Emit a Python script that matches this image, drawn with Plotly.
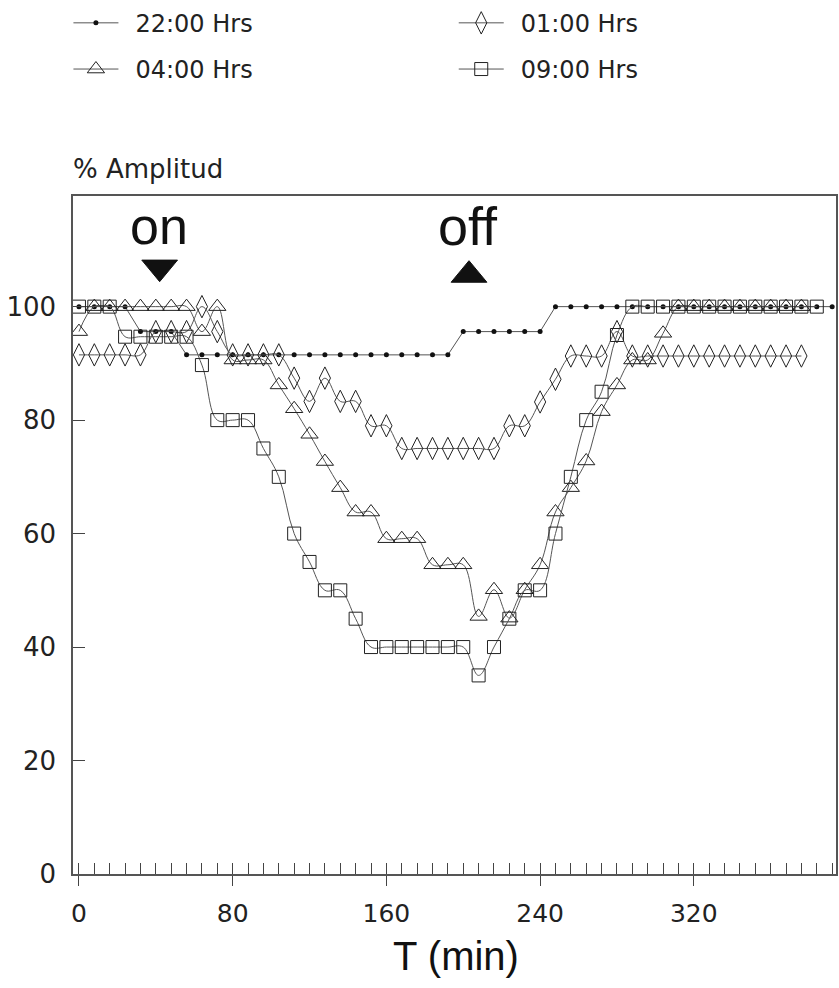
import plotly.graph_objects as go

# ---------------- data ----------------
t_2200 = [0, 8, 16, 24, 32, 40, 48, 56, 64, 72, 80, 88, 96, 104, 112, 120, 128, 136, 144, 152,
          160, 168, 176, 184, 192, 200, 208, 216, 224, 232, 240, 248, 256, 264, 272, 280, 288,
          296, 304, 312, 320, 328, 336, 344, 352, 360, 368, 376, 384, 392]
v_2200 = [100, 100, 100, 100, 95.6, 95.6, 95.6, 91.5, 91.5, 91.5, 91.5, 91.5, 91.5, 91.5, 91.5,
          91.5, 91.5, 91.5, 91.5, 91.5, 91.5, 91.5, 91.5, 91.5, 91.5, 95.6, 95.6, 95.6, 95.6, 95.6,
          95.6, 100, 100, 100, 100, 100, 100, 100, 100, 100, 100, 100, 100, 100, 100, 100, 100,
          100, 100, 100]

t_0100 = [0, 8, 16, 24, 32, 40, 48, 56, 64, 72, 80, 88, 96, 104, 112, 120, 128, 136, 144, 152,
          160, 168, 176, 184, 192, 200, 208, 216, 224, 232, 240, 248, 256, 264, 272, 280, 288,
          296, 304, 312, 320, 328, 336, 344, 352, 360, 368, 376]
v_0100 = [91.5, 91.5, 91.5, 91.5, 91.5, 95.6, 95.6, 95.6, 100, 95.6, 91.5, 91.5, 91.5, 91.5,
          87.4, 83.3, 87.4, 83.3, 83.3, 79, 79, 75, 75, 75, 75, 75, 75, 75, 79, 79, 83.2, 87.2,
          91.3, 91.3, 91.3, 95.6, 91.3, 91.3, 91.3, 91.3, 91.3, 91.3, 91.3, 91.3, 91.3, 91.3,
          91.3, 91.3]

t_0400 = [0, 8, 16, 24, 32, 40, 48, 56, 64, 72, 80, 88, 96, 104, 112, 120, 128, 136, 144, 152,
          160, 168, 176, 184, 192, 200, 208, 216, 224, 232, 240, 248, 256, 264, 272, 280, 288,
          296, 304, 312, 320, 328, 336, 344, 352, 360, 368, 376]
v_0400 = [95.6, 100, 100, 100, 100, 100, 100, 100, 95.6, 100, 90.6, 90.6, 90.6, 86.2, 82, 77.5,
          72.7, 68.1, 63.8, 63.8, 59.1, 59.1, 59.1, 54.5, 54.5, 54.5, 45.4, 50.1, 45.1, 50.1,
          54.5, 63.8, 68.1, 72.8, 81.5, 86.2, 90.6, 90.6, 95.3, 100, 100, 100, 100, 100, 100,
          100, 100, 100]

t_0900 = [0, 8, 16, 24, 32, 40, 48, 56, 64, 72, 80, 88, 96, 104, 112, 120, 128, 136, 144, 152,
          160, 168, 176, 184, 192, 200, 208, 216, 224, 232, 240, 248, 256, 264, 272, 280, 288,
          296, 304, 312, 320, 328, 336, 344, 352, 360, 368, 376, 384]
v_0900 = [100, 100, 100, 94.7, 94.7, 94.7, 94.7, 94.7, 89.7, 80, 80, 80, 75, 70, 60, 55, 50, 50,
          45, 40, 40, 40, 40, 40, 40, 40, 35, 40, 45, 50, 50, 60, 70, 80, 85, 95, 100, 100, 100,
          100, 100, 100, 100, 100, 100, 100, 100, 100, 100]

series_names = ["22:00 Hrs", "01:00 Hrs", "04:00 Hrs", "09:00 Hrs"]
x_ticks = [0, 80, 160, 240, 320]
y_ticks = [0, 20, 40, 60, 80, 100]
on_time = 42
off_time = 203

# ---------------- figure ----------------
XR = [-3.1, 394]
YR = [0, 119.5]
INK = "#222222"
LINE = "#555555"
PAD = "\u2002"  # small gap between legend symbol and text

fig = go.Figure()

fig.add_trace(go.Scatter(
    x=t_2200, y=v_2200, name=PAD + series_names[0], mode="lines+markers",
    line=dict(color=LINE, width=1), marker=dict(symbol="circle", size=5, color="#111111"),
    legend="legend", legendgroup="a"))
fig.add_trace(go.Scatter(
    x=t_0100, y=v_0100, name=PAD + series_names[1], mode="lines+markers",
    line=dict(color=LINE, width=1, shape="spline", smoothing=1.1),
    marker=dict(symbol="diamond-tall-open", size=16, color=INK, line=dict(width=1, color=INK)),
    legend="legend2", legendgroup="b"))
fig.add_trace(go.Scatter(
    x=t_0400, y=v_0400, name=PAD + series_names[2], mode="lines+markers",
    line=dict(color=LINE, width=1, shape="spline", smoothing=1.1),
    marker=dict(symbol="triangle-up-open", size=15, color=INK, line=dict(width=1, color=INK)),
    legend="legend", legendgroup="c"))
fig.add_trace(go.Scatter(
    x=t_0900, y=v_0900, name=PAD + series_names[3], mode="lines+markers",
    line=dict(color=LINE, width=1, shape="spline", smoothing=1.1),
    marker=dict(symbol="square-open", size=13, color=INK, line=dict(width=1, color=INK)),
    legend="legend2", legendgroup="d"))

# on / off markers (flat triangles)
hw = 9.3   # half width in minutes
h = 3.8    # height in % units
shapes = [
    dict(type="path", xref="x", yref="y",
         path=f"M {on_time-hw},108.2 L {on_time+hw},108.2 L {on_time},{108.2-h} Z",
         fillcolor="#111111", line=dict(color="#111111", width=1)),
    dict(type="path", xref="x", yref="y",
         path=f"M {off_time-hw},104.3 L {off_time+hw},104.3 L {off_time},{104.3+h} Z",
         fillcolor="#111111", line=dict(color="#111111", width=1)),
]

annotations = [
    dict(text="% Amplitud", xref="paper", yref="paper", x=-0.003, y=1.040,
         xanchor="left", yanchor="middle", showarrow=False,
         font=dict(family="DejaVu Sans", size=26, color=INK)),
    dict(text="on", xref="x", yref="y", x=on_time - 0.5, y=114.2, showarrow=False,
         xanchor="center", yanchor="middle",
         font=dict(family="Liberation Sans", size=52, color="#111111")),
    dict(text="off", xref="x", yref="y", x=off_time - 0.5, y=114.2, showarrow=False,
         xanchor="center", yanchor="middle",
         font=dict(family="Liberation Sans", size=54, color="#111111")),
    dict(text="T (min)", xref="paper", yref="paper", x=0.502, y=-0.121, showarrow=False,
         xanchor="center", yanchor="middle",
         font=dict(family="Liberation Sans", size=40, color="#111111")),
]

legend_common = dict(
    orientation="v", bgcolor="rgba(0,0,0,0)", borderwidth=0,
    font=dict(family="DejaVu Sans", size=24, color=INK),
    tracegroupgap=12, itemwidth=45, xanchor="left", yanchor="top",
)

fig.update_layout(
    width=839, height=988,
    margin=dict(l=73, r=1, t=192, b=114),
    paper_bgcolor="white", plot_bgcolor="white",
    showlegend=True,
    legend=dict(x=-0.006, y=1.288, **legend_common),
    legend2=dict(x=0.499, y=1.288, **legend_common),
    xaxis=dict(range=XR, tickvals=x_ticks, ticks="outside", ticklen=10, tickwidth=1,
               tickcolor="#444444", showline=True, linecolor="#555555", linewidth=1.5,
               mirror=True, showgrid=False, zeroline=False, ticklabelstandoff=6,
               tickfont=dict(family="DejaVu Sans", size=25, color=INK)),
    xaxis2=dict(range=XR, overlaying="x", anchor="y", side="bottom", tick0=0, dtick=8,
                ticks="inside", ticklen=11, tickwidth=1, tickcolor="#444444",
                showticklabels=False, showline=False, showgrid=False, zeroline=False),
    yaxis=dict(range=YR, tickvals=y_ticks, ticks="inside", ticklen=12, tickwidth=1,
               tickcolor="#444444", showline=True, linecolor="#555555", linewidth=1.5,
               mirror=True, showgrid=False, zeroline=False, ticklabelstandoff=10,
               tickfont=dict(family="DejaVu Sans", size=26, color=INK)),
    shapes=shapes,
    annotations=annotations,
)

# invisible trace to activate the minor-tick overlay axis
fig.add_trace(go.Scatter(x=[XR[0]], y=[0], xaxis="x2", yaxis="y", mode="markers",
                         marker=dict(opacity=0), showlegend=False, hoverinfo="skip"))

fig.write_html("out.html")
